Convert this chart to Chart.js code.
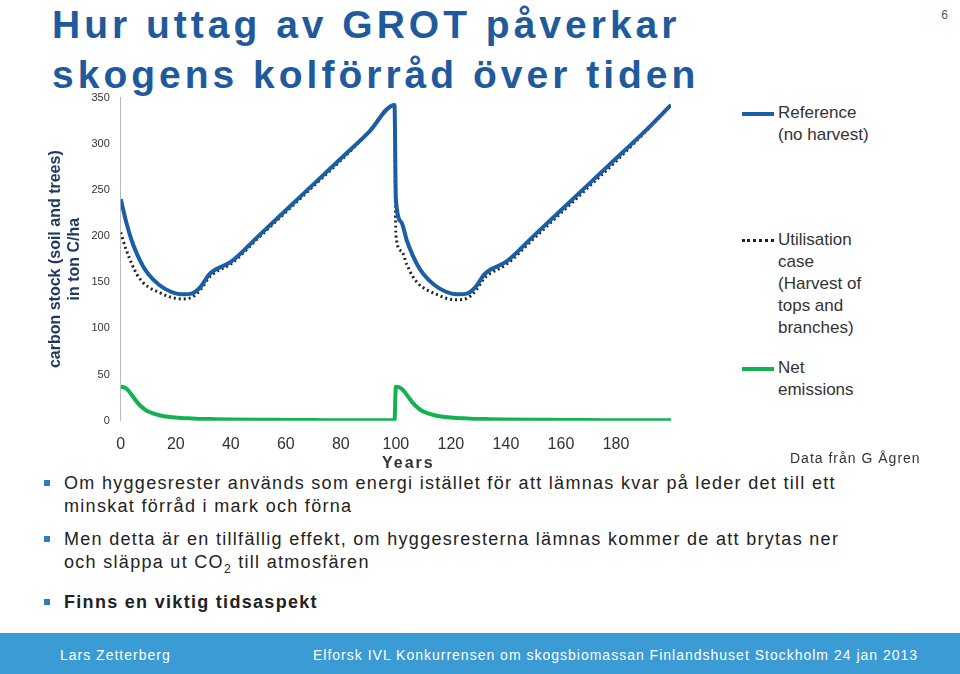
<!DOCTYPE html>
<html><head><meta charset="utf-8">
<script src="https://cdn.jsdelivr.net/npm/chart.js@4"></script>
<style>
body{margin:0;width:960px;height:674px;position:relative;font-family:"Liberation Sans",Arial,sans-serif;background:#fff;overflow:hidden}
h1{position:absolute;left:52px;top:0;margin:0;font-size:39px;line-height:50px;color:#1f5a9c;letter-spacing:4px;font-weight:bold}
#pg{position:absolute;right:12px;top:8px;font-size:12px;color:#555}
#wrap{position:absolute;left:42px;top:88px;width:643px;height:380px}
.lg{position:absolute;left:742px;font-size:17px;color:#333;line-height:22px;padding-left:36px}
.lg i{position:absolute;left:0;top:10px;width:32px;height:0}
#src{position:absolute;left:790px;top:450px;font-size:14px;letter-spacing:1px;color:#333}
#xt{position:absolute;left:382px;top:454px;font-size:16px;font-weight:bold;letter-spacing:2px;color:#333}
ul{position:absolute;left:40px;top:472px;margin:0;padding:0;list-style:none;font-size:18px;letter-spacing:1.3px;color:#222;width:800px}
li{position:relative;padding-left:24px;line-height:23px;margin-bottom:10px}
li:before{content:"";position:absolute;left:4px;top:8px;width:6px;height:6px;background:#2a7fc1}
#foot{position:absolute;left:0;top:633px;width:960px;height:41px;background:#3a9bd5;color:#fff;font-size:14px;letter-spacing:1px}
#foot span{position:absolute;top:14px}
</style></head><body>
<h1>Hur uttag av GROT påverkar<br>skogens kolförråd över tiden</h1>
<div id="pg">6</div>
<div id="wrap"><canvas id="c"></canvas></div>
<div class="lg" style="top:102px"><i style="border-top:4px solid #1a5ea6"></i>Reference<br>(no harvest)</div>
<div class="lg" style="top:229px"><i style="border-top:3px dotted #222"></i>Utilisation<br>case<br>(Harvest of<br>tops and<br>branches)</div>
<div class="lg" style="top:357px"><i style="border-top:4px solid #12b24f"></i>Net<br>emissions</div>
<div id="xt">Years</div>
<div id="src">Data från G Ågren</div>
<ul>
<li>Om hyggesrester används som energi istället för att lämnas kvar på leder det till ett minskat förråd i mark och förna</li>
<li>Men detta är en tillfällig effekt, om hyggesresterna lämnas kommer de att brytas ner och släppa ut CO<sub style="font-size:12px">2</sub> till atmosfären</li>
<li style="font-weight:bold">Finns en viktig tidsaspekt</li>
</ul>
<div id="foot"><span style="left:60px">Lars Zetterberg</span><span style="left:313px">Elforsk IVL  Konkurrensen om skogsbiomassan Finlandshuset Stockholm 24 jan 2013</span></div>
<script>
const years = [0,2,4,6,8,10,14,18,22,26,29,32,34,40,50,60,70,80,90,99.5,
  100,102,104,106,108,110,114,118,122,126,129,132,134,140,150,160,170,180,190,200];
const reference = [240,215,195,180,168,159,147,140,137,138,145,158,163,172,200,228,256,284,312,342,
  240,215,195,180,168,159,147,140,137,138,145,158,163,172,200,228,256,284,312,342];
const utilisation = [204,185,170,158,150,145,139,134,132,134,142,155,160,170,198,226,254,282,312,342,
  201,184,169,157,149,144,138,133,131,133,141,154,159,169,197,225,253,281,311,342];
const netEmissions = [37,35,28,20,14,10,6,4,3,2.5,2,2,1.8,1.5,1.2,1,0.8,0.6,0.5,0.5,
  37,35,28,20,14,10,6,4,3,2.5,2,2,1.8,1.5,1.2,1,0.8,0.6,0.5,0.5];
const xy = arr => arr.map((v, i) => ({x: years[i], y: v}));

new Chart(document.getElementById('c'), {
  type: 'line',
  data: {datasets: [
    {label: 'Reference (no harvest)', data: xy(reference), borderColor: '#1a5ea6', borderWidth: 4, pointRadius: 0, cubicInterpolationMode: 'monotone'},
    {label: 'Utilisation case', data: xy(utilisation), borderColor: '#222', borderWidth: 3, borderDash: [2, 3], pointRadius: 0, cubicInterpolationMode: 'monotone'},
    {label: 'Net emissions', data: xy(netEmissions), borderColor: '#12b24f', borderWidth: 4, pointRadius: 0, cubicInterpolationMode: 'monotone'}
  ]},
  options: {
    responsive: true, maintainAspectRatio: false, animation: false,
    plugins: {legend: {display: false}},
    scales: {
      x: {type: 'linear', min: 0, max: 200,
        grid: {display: false, drawTicks: false}, border: {display: false},
        ticks: {stepSize: 20, padding: 14, color: '#333', font: {size: 16},
          callback: v => v === 200 ? '' : v}},
      y: {min: 0, max: 350,
        grid: {display: false}, border: {color: '#bbb'},
        ticks: {stepSize: 50, padding: 3, color: '#333', font: {size: 11}},
        title: {display: true, text: ['carbon stock (soil and trees)', 'in ton C/ha'], color: '#1f3a5f', font: {size: 16, weight: 'bold'}}}
    }
  }
});
</script>
</body></html>
